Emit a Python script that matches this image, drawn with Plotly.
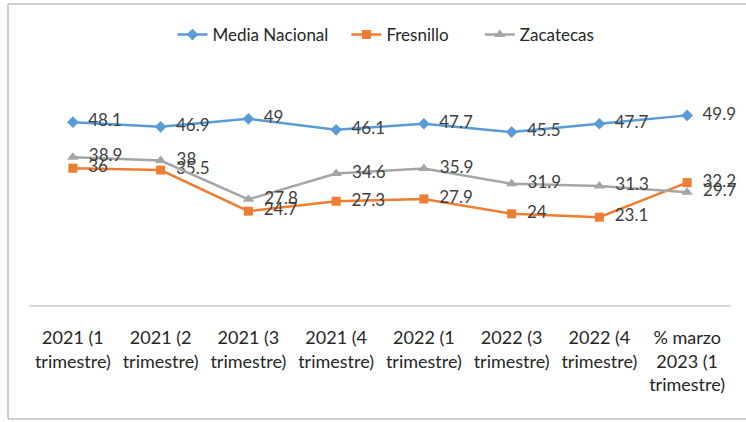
import plotly.graph_objects as go

categories = [
    "2021 (1<br>trimestre)", "2021 (2<br>trimestre)", "2021 (3<br>trimestre)",
    "2021 (4<br>trimestre)", "2022 (1<br>trimestre)", "2022 (3<br>trimestre)",
    "2022 (4<br>trimestre)", "% marzo<br>2023 (1<br>trimestre)",
]
media_nacional = [48.1, 46.9, 49, 46.1, 47.7, 45.5, 47.7, 49.9]
fresnillo = [36, 35.5, 24.7, 27.3, 27.9, 24, 23.1, 32.2]
zacatecas = [38.9, 38, 27.8, 34.6, 35.9, 31.9, 31.3, 29.7]
series_names = ["Media Nacional", "Fresnillo", "Zacatecas"]

FONT = "Lato"
fig = go.Figure()
styles = [
    ("#5B9BD5", "diamond", 9, 3),
    ("#ED7D31", "square", 9, 6),
    ("#A5A5A5", "triangle-up", 10, 0),
]
for name, vals, (col, sym, sz, pad) in zip(series_names, [media_nacional, fresnillo, zacatecas], styles):
    fig.add_trace(go.Scatter(
        x=list(range(len(categories))), y=vals,
        name=name + "\u00a0" * pad,
        mode="lines+markers+text",
        line=dict(color=col, width=2.5),
        marker=dict(color=col, symbol=sym, size=sz),
        text=["\u00a0\u00a0" + f"{v:g}" for v in vals],
        textposition="middle right",
        textfont=dict(family=FONT, size=17, color="#404040"),
        cliponaxis=False,
    ))

border = dict(color="#BFBFBF", width=1.5)
fig.update_layout(
    width=746, height=422,
    margin=dict(l=29, r=15, t=77, b=117, autoexpand=False),
    paper_bgcolor="white", plot_bgcolor="white",
    showlegend=True,
    legend=dict(orientation="h", x=0.5085, xanchor="center", y=1.184, yanchor="middle",
                font=dict(family=FONT, size=17, color="#262626"), traceorder="normal"),
    xaxis=dict(
        tickmode="array", tickvals=list(range(len(categories))), ticktext=categories,
        range=[-0.5, 7.5], showgrid=False, zeroline=False,
        showline=True, linecolor="#D9D9D9", linewidth=1.5,
        tickfont=dict(family=FONT, size=18, color="#262626"),
        ticks="", ticklen=0, ticklabelstandoff=16, automargin=False,
    ),
    yaxis=dict(range=[0, 60], visible=False, showgrid=False, zeroline=False),
    shapes=[
        dict(type="line", xref="paper", yref="paper", x0=-0.0299, x1=-0.0299,
             y0=-0.5, y1=1.3202, line=border),
        dict(type="line", xref="paper", yref="paper", x0=-0.0299, x1=1.03,
             y0=1.3202, y1=1.3202, line=border),
        dict(type="line", xref="paper", yref="paper", x0=-0.0299, x1=1.03,
             y0=-0.5, y1=-0.5, line=border),
    ],
)
fig.write_html("out.html", config={"displayModeBar": False},
               post_script="document.body.style.margin='0';document.body.style.overflow='hidden';")
